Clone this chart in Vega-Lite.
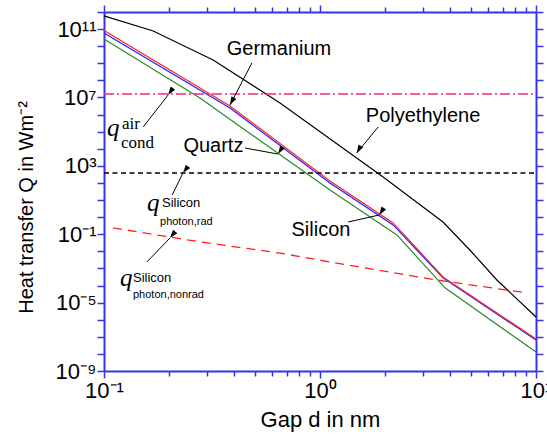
{
  "$schema": "https://vega.github.io/schema/vega-lite/v6.json",
  "width": 432,
  "height": 359,
  "autosize": {"type": "none"},
  "padding": {"left": 104, "top": 12, "right": 11, "bottom": 64},
  "background": "white",
  "config": {
    "view": {"stroke": null},
    "font": "Liberation Sans",
    "axis": {
      "domainColor": "#3535ee",
      "domainWidth": 2,
      "tickColor": "#3535ee",
      "tickWidth": 1.5,
      "grid": false,
      "labelColor": "black",
      "titleColor": "black",
      "labelFont": "Liberation Sans",
      "titleFont": "Liberation Sans",
      "titleFontWeight": "normal"
    }
  },
  "datasets": {
    "curves": [
      {"material": "Polyethylene", "x": 0.1, "y": 5.9e11},
      {"material": "Polyethylene", "x": 0.169, "y": 7.8e10},
      {"material": "Polyethylene", "x": 0.32, "y": 1.55e9},
      {"material": "Polyethylene", "x": 0.653, "y": 4.8e6},
      {"material": "Polyethylene", "x": 1.96, "y": 224},
      {"material": "Polyethylene", "x": 3.71, "y": 0.52},
      {"material": "Polyethylene", "x": 4.94, "y": 0.012},
      {"material": "Polyethylene", "x": 6.59, "y": 2.1e-4},
      {"material": "Polyethylene", "x": 10, "y": 1.45e-6},
      {"material": "Quartz", "x": 0.1, "y": 2.6e10},
      {"material": "Quartz", "x": 0.278, "y": 9.3e6},
      {"material": "Quartz", "x": 1.112, "y": 39},
      {"material": "Quartz", "x": 2.27, "y": 0.091},
      {"material": "Quartz", "x": 3.79, "y": 7.3e-5},
      {"material": "Quartz", "x": 10, "y": 1.3e-8},
      {"material": "Silicon", "x": 0.1, "y": 5.9e10},
      {"material": "Silicon", "x": 0.383, "y": 2.4e6},
      {"material": "Silicon", "x": 1.112, "y": 100},
      {"material": "Silicon", "x": 2.18, "y": 0.35},
      {"material": "Silicon", "x": 3.71, "y": 2.8e-4},
      {"material": "Silicon", "x": 10, "y": 6.4e-8},
      {"material": "Germanium", "x": 0.1, "y": 8.3e10},
      {"material": "Germanium", "x": 0.383, "y": 3.2e6},
      {"material": "Germanium", "x": 1.112, "y": 129},
      {"material": "Germanium", "x": 2.18, "y": 0.46},
      {"material": "Germanium", "x": 3.71, "y": 3.2e-4},
      {"material": "Germanium", "x": 10, "y": 7.4e-8}
    ],
    "refs": [
      {"name": "air", "x": 0.1, "y": 1.6e7},
      {"name": "air", "x": 10, "y": 1.6e7},
      {"name": "rad", "x": 0.1, "y": 383},
      {"name": "rad", "x": 10, "y": 383},
      {"name": "nonrad", "x": 0.11, "y": 0.236},
      {"name": "nonrad", "x": 0.278, "y": 0.0357},
      {"name": "nonrad", "x": 0.653, "y": 0.0079},
      {"name": "nonrad", "x": 1.112, "y": 0.0024},
      {"name": "nonrad", "x": 3.48, "y": 2.1e-4},
      {"name": "nonrad", "x": 9.18, "y": 3.6e-5}
    ],
    "arrows": [
      {"name": "Germanium", "fx": 0.484, "fy": 1.05e9, "tx": 0.383, "ty": 3.6e6},
      {"name": "Polyethylene", "fx": 1.86, "fy": 1.9e5, "tx": 1.48, "ty": 5600},
      {"name": "Quartz", "fx": 0.45, "fy": 1.1e4, "tx": 0.64, "ty": 4900},
      {"name": "Silicon", "fx": 1.35, "fy": 0.52, "tx": 1.88, "ty": 1.34},
      {"name": "cond", "fx": 0.152, "fy": 1.9e5, "tx": 0.198, "ty": 1.4e7},
      {"name": "rad", "fx": 0.207, "fy": 20, "tx": 0.232, "ty": 383},
      {"name": "nonrad", "fx": 0.158, "fy": 0.0024, "tx": 0.202, "ty": 0.06}
    ],
    "notes": [
      {"role": "label", "x": 0.646, "y": 3.0e9, "text": "Germanium"},
      {"role": "label", "x": 3.0, "y": 3.9e5, "text": "Polyethylene"},
      {"role": "label", "x": 0.321, "y": 6500, "text": "Quartz"},
      {"role": "label", "x": 1.01, "y": 0.079, "text": "Silicon"},
      {"role": "q", "x": 0.1033, "y": 5.6e4, "text": "q"},
      {"role": "q", "x": 0.158, "y": 2.3, "text": "q"},
      {"role": "q", "x": 0.1186, "y": 9.3e-5, "text": "q"},
      {"role": "supserif", "x": 0.1212, "y": 1.44e5, "text": "air"},
      {"role": "subserif", "x": 0.1199, "y": 1.1e4, "text": "cond"},
      {"role": "supsans", "x": 0.1856, "y": 3.9, "text": "Silicon"},
      {"role": "supsans", "x": 0.1362, "y": 1.6e-4, "text": "Silicon"},
      {"role": "subsans", "x": 0.1817, "y": 0.35, "text": "photon,rad"},
      {"role": "subsans", "x": 0.1362, "y": 1.9e-5, "text": "photon,nonrad"}
    ]
  },
  "layer": [
    {
      "data": {"name": "curves"},
      "mark": {"type": "line", "strokeWidth": 1.2},
      "encoding": {
        "x": {
          "field": "x", "type": "quantitative",
          "scale": {"type": "log", "domain": [0.1, 10], "nice": false},
          "axis": {
            "orient": "bottom",
            "values": [0.1, 0.2, 0.3, 0.4, 0.5, 0.6, 0.7, 0.8, 0.9, 1, 2, 3, 4, 5, 6, 7, 8, 9, 10],
            "labelExpr": "datum.value == 0.1 ? '10⁻¹' : datum.value == 1 ? '10⁰' : datum.value == 10 ? '10¹' : ''",
            "labelFontSize": 22,
            "labelPadding": 2,
            "labelOverlap": false,
            "labelFlush": false,
            "labelBound": false,
            "tickSize": {"condition": {"test": "datum.value == 0.1 || datum.value == 1 || datum.value == 10", "value": 7}, "value": 5},
            "title": "Gap d in nm",
            "titleFontSize": 22,
            "titlePadding": 8
          }
        },
        "y": {
          "field": "y", "type": "quantitative",
          "scale": {"type": "log", "domain": [1e-9, 1e12], "nice": false},
          "axis": {
            "orient": "left",
            "values": [1e-9, 1e-8, 1e-7, 1e-6, 1e-5, 1e-4, 1e-3, 1e-2, 1e-1, 1, 10, 100, 1000, 1e4, 1e5, 1e6, 1e7, 1e8, 1e9, 1e10, 1e11, 1e12],
            "labelExpr": "['10⁻⁹','','','','10⁻⁵','','','','10⁻¹','','','','10³','','','','10⁷','','','','10¹¹',''][round(log(datum.value)/LN10)+9]",
            "labelFontSize": 22,
            "labelPadding": 1,
            "labelOverlap": false,
            "labelFlush": false,
            "labelBound": false,
            "tickSize": 7,
            "title": "Heat transfer Q in Wm⁻²",
            "titleFontSize": 20,
            "titlePadding": 19,
            "titleY": 195
          }
        },
        "color": {
          "field": "material", "type": "nominal",
          "scale": {"domain": ["Polyethylene", "Quartz", "Silicon", "Germanium"], "range": ["#000000", "#2a8a2a", "#2020ff", "#ff2020"]},
          "legend": null
        }
      }
    },
    {
      "data": {"name": "refs"},
      "mark": {"type": "line", "strokeWidth": 1.3},
      "encoding": {
        "x": {
          "field": "x", "type": "quantitative",
          "scale": {"type": "log", "domain": [0.1, 10], "nice": false},
          "axis": {
            "orient": "top",
            "values": [0.1, 0.2, 0.3, 0.4, 0.5, 0.6, 0.7, 0.8, 0.9, 1, 2, 3, 4, 5, 6, 7, 8, 9, 10],
            "labels": false,
            "title": null,
            "tickSize": {"condition": {"test": "datum.value == 0.1 || datum.value == 1 || datum.value == 10", "value": 7}, "value": 5}
          }
        },
        "y": {
          "field": "y", "type": "quantitative",
          "scale": {"type": "log", "domain": [1e-9, 1e12], "nice": false},
          "axis": {
            "orient": "right",
            "values": [1e-9, 1e-8, 1e-7, 1e-6, 1e-5, 1e-4, 1e-3, 1e-2, 1e-1, 1, 10, 100, 1000, 1e4, 1e5, 1e6, 1e7, 1e8, 1e9, 1e10, 1e11, 1e12],
            "labels": false,
            "title": null,
            "tickSize": 7
          }
        },
        "color": {
          "field": "name", "type": "nominal",
          "scale": {"domain": ["air", "rad", "nonrad"], "range": ["#ee2a88", "#000000", "#ff2020"]},
          "legend": null
        },
        "strokeDash": {
          "field": "name", "type": "nominal",
          "scale": {"domain": ["air", "rad", "nonrad"], "range": [[10, 3, 2, 3], [5, 3.5], [9, 6]]},
          "legend": null
        }
      }
    },
    {
      "data": {"name": "arrows"},
      "mark": {"type": "rule", "color": "black", "strokeWidth": 1},
      "encoding": {
        "x": {"field": "fx", "type": "quantitative", "scale": {"type": "log", "domain": [0.1, 10], "nice": false}, "axis": null},
        "y": {"field": "fy", "type": "quantitative", "scale": {"type": "log", "domain": [1e-9, 1e12], "nice": false}, "axis": null},
        "x2": {"field": "tx"},
        "y2": {"field": "ty"}
      }
    },
    {
      "data": {"name": "arrows"},
      "mark": {"type": "point", "shape": "M0,0L0.33,1L-0.33,1Z", "filled": true, "color": "black", "opacity": 1, "size": 280},
      "encoding": {
        "x": {"field": "tx", "type": "quantitative", "scale": {"type": "log", "domain": [0.1, 10], "nice": false}, "axis": null},
        "y": {"field": "ty", "type": "quantitative", "scale": {"type": "log", "domain": [1e-9, 1e12], "nice": false}, "axis": null},
        "angle": {
          "field": "name", "type": "nominal",
          "scale": {"domain": ["Germanium", "Polyethylene", "Quartz", "Silicon", "cond", "rad", "nonrad"], "range": [207.6, 219, 100, 77, 38, 27, 44]},
          "legend": null
        }
      }
    },
    {
      "data": {"name": "notes"},
      "transform": [{"filter": "datum.role == 'label'"}],
      "mark": {"type": "text", "font": "Liberation Sans", "fontSize": 20, "align": "center", "baseline": "alphabetic", "color": "black"},
      "encoding": {
        "x": {"field": "x", "type": "quantitative", "scale": {"type": "log", "domain": [0.1, 10], "nice": false}, "axis": null},
        "y": {"field": "y", "type": "quantitative", "scale": {"type": "log", "domain": [1e-9, 1e12], "nice": false}, "axis": null},
        "text": {"field": "text"}
      }
    },
    {
      "data": {"name": "notes"},
      "transform": [{"filter": "datum.role == 'q'"}],
      "mark": {"type": "text", "font": "Liberation Serif", "fontStyle": "italic", "fontSize": 25, "align": "left", "baseline": "alphabetic", "color": "black"},
      "encoding": {
        "x": {"field": "x", "type": "quantitative", "scale": {"type": "log", "domain": [0.1, 10], "nice": false}, "axis": null},
        "y": {"field": "y", "type": "quantitative", "scale": {"type": "log", "domain": [1e-9, 1e12], "nice": false}, "axis": null},
        "text": {"field": "text"}
      }
    },
    {
      "data": {"name": "notes"},
      "transform": [{"filter": "datum.role == 'supserif' || datum.role == 'subserif'"}],
      "mark": {"type": "text", "font": "Liberation Serif", "fontSize": 17, "align": "left", "baseline": "alphabetic", "color": "black"},
      "encoding": {
        "x": {"field": "x", "type": "quantitative", "scale": {"type": "log", "domain": [0.1, 10], "nice": false}, "axis": null},
        "y": {"field": "y", "type": "quantitative", "scale": {"type": "log", "domain": [1e-9, 1e12], "nice": false}, "axis": null},
        "text": {"field": "text"}
      }
    },
    {
      "data": {"name": "notes"},
      "transform": [{"filter": "datum.role == 'supsans'"}],
      "mark": {"type": "text", "font": "Liberation Sans", "fontSize": 13, "align": "left", "baseline": "alphabetic", "color": "black"},
      "encoding": {
        "x": {"field": "x", "type": "quantitative", "scale": {"type": "log", "domain": [0.1, 10], "nice": false}, "axis": null},
        "y": {"field": "y", "type": "quantitative", "scale": {"type": "log", "domain": [1e-9, 1e12], "nice": false}, "axis": null},
        "text": {"field": "text"}
      }
    },
    {
      "data": {"name": "notes"},
      "transform": [{"filter": "datum.role == 'subsans'"}],
      "mark": {"type": "text", "font": "Liberation Sans", "fontSize": 11, "align": "left", "baseline": "alphabetic", "color": "black"},
      "encoding": {
        "x": {"field": "x", "type": "quantitative", "scale": {"type": "log", "domain": [0.1, 10], "nice": false}, "axis": null},
        "y": {"field": "y", "type": "quantitative", "scale": {"type": "log", "domain": [1e-9, 1e12], "nice": false}, "axis": null},
        "text": {"field": "text"}
      }
    }
  ],
  "resolve": {"axis": {"x": "independent", "y": "independent"}, "scale": {"color": "independent", "strokeDash": "independent"}}
}
